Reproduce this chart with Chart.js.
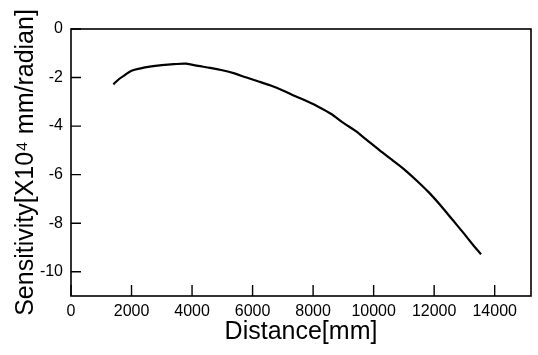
<!DOCTYPE html>
<html>
<head>
<meta charset="utf-8">
<script src="https://cdn.jsdelivr.net/npm/chart.js@4.4.1/dist/chart.umd.min.js"></script>
<style>
  html, body { margin: 0; padding: 0; background: #fff; }
  #wrap { width: 538px; height: 355px; }
</style>
</head>
<body>
<div id="wrap"><canvas id="sens"></canvas></div>
<script>
// distance along the path [mm]
const distance = [1400, 1600, 1800, 2000, 2300, 2600, 3000, 3400, 3800, 4200,
  4600, 5000, 5400, 5800, 6200, 6600, 7000, 7400, 7800, 8200, 8600, 9000,
  9400, 9800, 10200, 10600, 11000, 11400, 11800, 12200, 12600, 13000, 13300, 13550];
// sensitivity [x10^4 mm/radian]
const sensitivity = [-2.28, -2.05, -1.88, -1.72, -1.62, -1.55, -1.49, -1.45, -1.43, -1.52,
  -1.60, -1.70, -1.83, -2.00, -2.16, -2.33, -2.53, -2.76, -2.98, -3.22, -3.50, -3.87,
  -4.20, -4.60, -5.00, -5.38, -5.77, -6.22, -6.70, -7.25, -7.85, -8.45, -8.92, -9.28];
const xTicks = [0, 2000, 4000, 6000, 8000, 10000, 12000, 14000];
const yTicks = [0, -2, -4, -6, -8, -10];

const points = distance.map(function (d, i) {
  return { x: d, y: sensitivity[i] };
});

// box around the plot + ticks pointing inward
const frameTicks = {
  id: "frameTicks",
  afterDatasetsDraw: function (chart) {
    const ctx = chart.ctx;
    const a = chart.chartArea;
    const xs = chart.scales.x;
    const ys = chart.scales.y;
    ctx.save();
    ctx.strokeStyle = "#000";
    ctx.lineWidth = 1.6;
    ctx.strokeRect(a.left, a.top, a.right - a.left, a.bottom - a.top);
    ctx.lineWidth = 1.4;
    ctx.beginPath();
    xTicks.forEach(function (v) {
      let px = xs.getPixelForValue(v);
      ctx.moveTo(px, a.bottom);
      ctx.lineTo(px, a.bottom - 11);
    });
    yTicks.forEach(function (v) {
      let py = ys.getPixelForValue(v);
      ctx.moveTo(a.left, py);
      ctx.lineTo(a.left + 10, py);
    });
    ctx.stroke();
    ctx.restore();
  },
};

const tickFont = { family: "'Liberation Sans', Arial, sans-serif", size: 16 };
const titleFont = { family: "'Liberation Sans', Arial, sans-serif", size: 25 };

new Chart(document.getElementById("sens").getContext("2d"), {
  type: "line",
  data: {
    datasets: [{
      data: points,
      borderColor: "#000",
      borderWidth: 2.2,
      pointRadius: 0,
      fill: false,
      tension: 0.3,
    }],
  },
  options: {
    responsive: true,
    maintainAspectRatio: false,
    animation: false,
    layout: { padding: { left: 0, right: 7, top: 29, bottom: 0 } },
    plugins: { legend: { display: false }, tooltip: { enabled: false } },
    scales: {
      x: {
        type: "linear",
        min: 0,
        max: 15200,
        afterBuildTicks: function (s) {
          s.ticks = xTicks.map(function (v) { return { value: v }; });
        },
        afterFit: function (s) { s.height = 59; },
        grid: { display: false, drawTicks: false },
        border: { display: false },
        ticks: {
          color: "#000", font: tickFont, padding: 6, maxRotation: 0,
          callback: function (v) { return String(v); },
        },
        title: {
          display: true,
          text: "Distance[mm]",
          color: "#000",
          font: titleFont,
          padding: { top: 0, bottom: 8 },
        },
      },
      y: {
        type: "linear",
        min: -11,
        max: 0,
        afterBuildTicks: function (s) {
          s.ticks = yTicks.map(function (v) { return { value: v }; });
        },
        afterFit: function (s) { s.width = 71; },
        grid: { display: false, drawTicks: false },
        border: { display: false },
        ticks: {
          color: "#000", font: tickFont, padding: 8,
          callback: function (v) { return String(v); },
        },
        title: {
          display: true,
          text: "Sensitivity[X10\u2074 mm/radian]",
          color: "#000",
          font: titleFont,
          padding: { top: 11, bottom: 0 },
        },
      },
    },
  },
  plugins: [frameTicks],
});
</script>
</body>
</html>
